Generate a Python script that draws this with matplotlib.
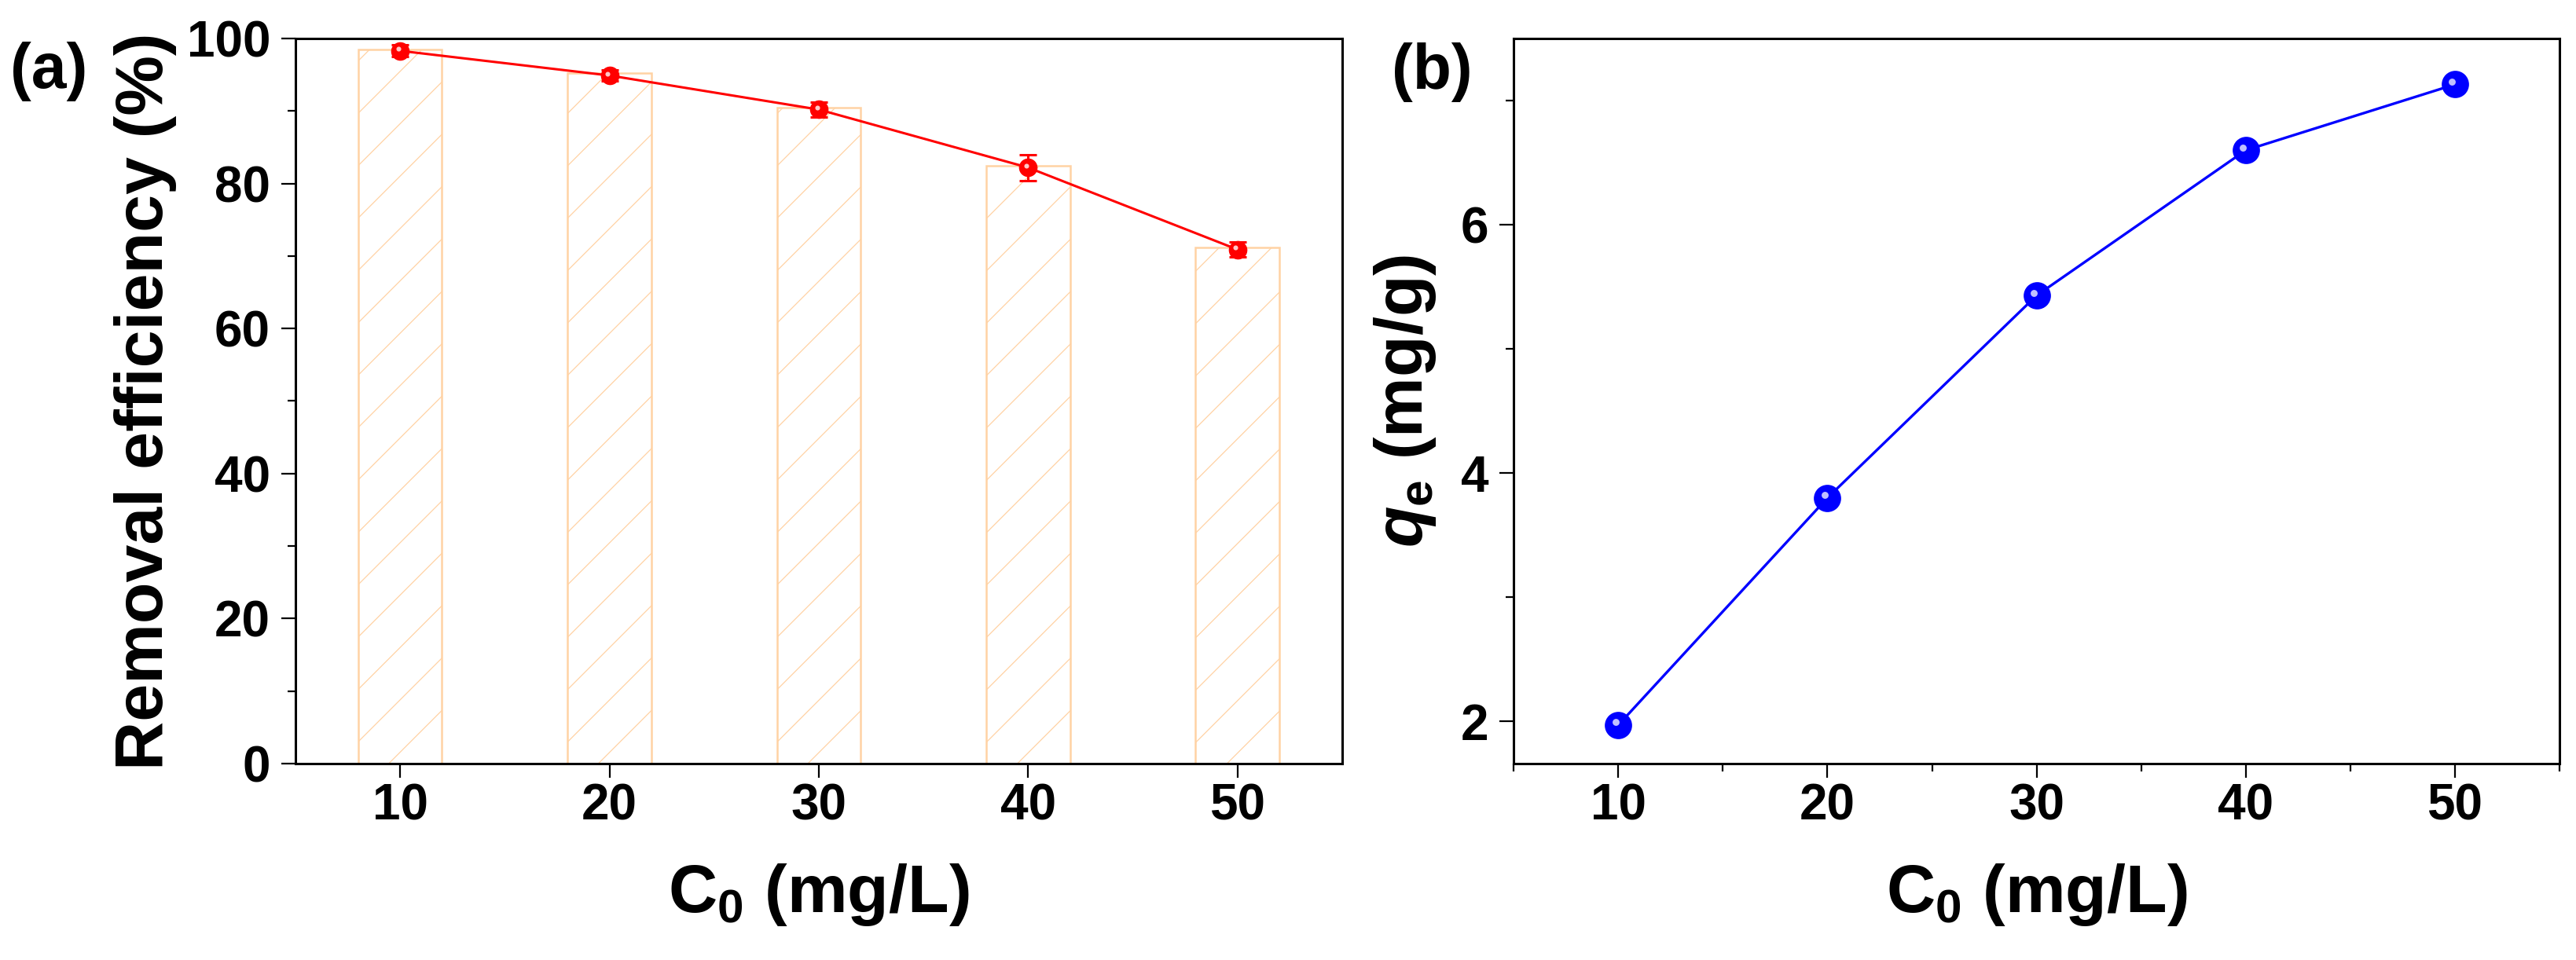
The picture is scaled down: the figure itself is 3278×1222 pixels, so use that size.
import matplotlib
matplotlib.use("Agg")
import matplotlib.pyplot as plt
from matplotlib.ticker import MultipleLocator
from matplotlib.transforms import offset_copy

plt.rcParams['font.family'] = ['Liberation Sans', 'DejaVu Sans']
plt.rcParams['font.weight'] = 'bold'
plt.rcParams['mathtext.fontset'] = 'custom'
plt.rcParams['mathtext.rm'] = 'Liberation Sans:bold'
plt.rcParams['mathtext.it'] = 'Liberation Sans:bold:italic'
plt.rcParams['mathtext.bf'] = 'Liberation Sans:bold'
plt.rcParams['hatch.linewidth'] = 0.45
plt.rcParams['hatch.color'] = '#FFD2A4'

# Data
c0 = [10, 20, 30, 40, 50]
removal_bar = [98.5, 95.2, 90.5, 82.5, 71.2]
removal = [98.3, 94.9, 90.2, 82.2, 70.9]
removal_err = [0.8, 0.8, 1.0, 1.8, 1.0]
qe = [1.97, 3.80, 5.43, 6.60, 7.13]

fig = plt.figure(figsize=(16.39, 6.11), dpi=200)
ax1 = fig.add_axes([0.1147, 0.2046, 0.4063, 0.7553])
ax2 = fig.add_axes([0.5876, 0.2046, 0.4060, 0.7553])

tick_fs = 23
lab_fs = 31
panel_fs = 29

# Panel (a)
ax1.bar(c0, removal_bar, width=4, facecolor='white', edgecolor='#FFD2A4',
        hatch='/', linewidth=0.9, zorder=1)
ax1.errorbar(c0, removal, yerr=removal_err, color='#FF0000', lw=1.1,
             marker='o', ms=7.5, mfc='#FF0000', mec='#FF0000',
             capsize=4, capthick=1.1, elinewidth=1.1, zorder=3)
hl1 = offset_copy(ax1.transData, fig=fig, x=-0.8, y=0.8, units='points')
ax1.plot(c0, removal, ls='none', marker='o', ms=2.2, mfc='#FFC8C8', mec='none',
         transform=hl1, zorder=4)
ax1.set_xlim(5, 55)
ax1.set_ylim(0, 100)
ax1.xaxis.set_major_locator(MultipleLocator(10))
ax1.yaxis.set_major_locator(MultipleLocator(20))
ax1.yaxis.set_minor_locator(MultipleLocator(10))
ax1.set_ylabel('Removal efficiency (%)', fontsize=lab_fs, fontweight='bold')
ax1.set_xlabel('C$_\\mathrm{0}$ (mg/L)', fontsize=lab_fs, fontweight='bold')
ax1.yaxis.set_label_coords(-0.113, 0.5)
ax1.xaxis.set_label_coords(0.5, -0.135)

# Panel (b)
ax2.plot(c0, qe, color='#0000FF', lw=1.2, marker='o', ms=11.5, mfc='#0000FF', mec='#0000FF', zorder=3)
hl2 = offset_copy(ax2.transData, fig=fig, x=-1.3, y=1.3, units='points')
ax2.plot(c0, qe, ls='none', marker='o', ms=3.2, mfc='#C0C0FF', mec='none',
         transform=hl2, zorder=4)
ax2.set_xlim(5, 55)
ax2.set_ylim(1.66, 7.5)
ax2.xaxis.set_major_locator(MultipleLocator(10))
ax2.xaxis.set_minor_locator(MultipleLocator(5))
ax2.yaxis.set_major_locator(MultipleLocator(2))
ax2.yaxis.set_minor_locator(MultipleLocator(1))
ax2.set_ylabel('$q_\\mathrm{e}$ (mg/g)', fontsize=lab_fs, fontweight='bold')
ax2.set_xlabel('C$_\\mathrm{0}$ (mg/L)', fontsize=lab_fs, fontweight='bold')
ax2.yaxis.set_label_coords(-0.072, 0.5)
ax2.xaxis.set_label_coords(0.5, -0.135)

fig.text(0.0189, 0.9255, '(a)', fontsize=panel_fs, fontweight='bold', ha='center', va='center')
fig.text(0.5558, 0.9247, '(b)', fontsize=panel_fs, fontweight='bold', ha='center', va='center')

for ax in (ax1, ax2):
    for s in ax.spines.values():
        s.set_linewidth(1.1)
    ax.tick_params(axis='both', which='major', direction='out', length=6.5, width=0.8,
                   labelsize=tick_fs, top=False, right=False)
    ax.tick_params(axis='x', which='major', pad=2.5)
    ax.tick_params(axis='y', which='major', pad=5)
    ax.tick_params(axis='both', which='minor', direction='out', length=3.5, width=0.8,
                   top=False, right=False)
    for lbl in ax.get_xticklabels() + ax.get_yticklabels():
        lbl.set_fontweight('bold')

fig.savefig('out.png', dpi=200)
